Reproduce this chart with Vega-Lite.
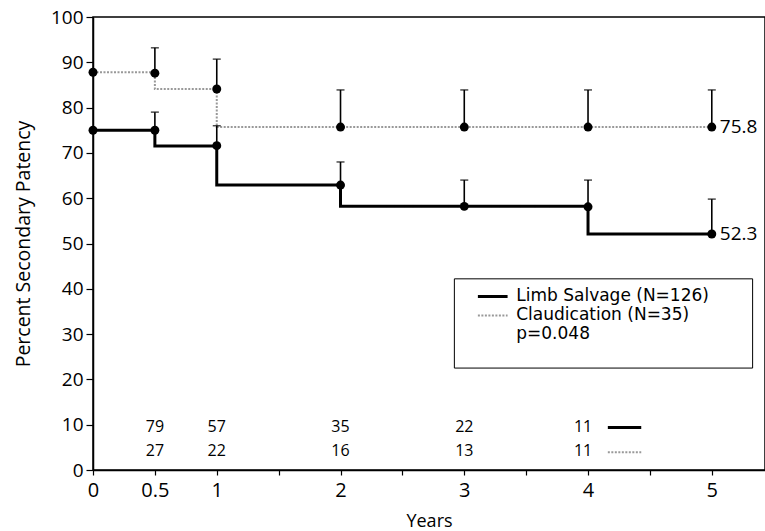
{
  "$schema": "https://vega.github.io/schema/vega-lite/v6.json",
  "width": 672,
  "height": 453,
  "autosize": "none",
  "padding": {"left": 93, "top": 17, "right": 0, "bottom": 61},
  "background": "white",
  "config": {
    "view": {"stroke": "black", "strokeWidth": 1.5},
    "font": "Open Sans",
    "axis": {"domainColor": "black", "tickColor": "black", "labelColor": "black", "titleColor": "black", "grid": false, "labelFont": "Open Sans", "titleFont": "Open Sans", "titleFontWeight": "normal", "domainWidth": 1.5, "tickWidth": 1.2}
  },
  "datasets": {
    "km": [
      {"group": "Limb", "year": 0, "dot": 75, "line": 75, "upper": null},
      {"group": "Limb", "year": 0.5, "dot": 75, "line": 71.5, "upper": 79},
      {"group": "Limb", "year": 1, "dot": 71.6, "line": 62.9, "upper": 76},
      {"group": "Limb", "year": 2, "dot": 62.9, "line": 58.2, "upper": 68},
      {"group": "Limb", "year": 3, "dot": 58.2, "line": 58.2, "upper": 64},
      {"group": "Limb", "year": 4, "dot": 58.1, "line": 52.1, "upper": 64},
      {"group": "Limb", "year": 5, "dot": 52.1, "line": 52.1, "upper": 59.8},
      {"group": "Claud", "year": 0, "dot": 87.8, "line": 87.8, "upper": null},
      {"group": "Claud", "year": 0.5, "dot": 87.6, "line": 84.1, "upper": 93.2},
      {"group": "Claud", "year": 1, "dot": 84.1, "line": 75.7, "upper": 90.7},
      {"group": "Claud", "year": 2, "dot": 75.7, "line": 75.7, "upper": 83.9},
      {"group": "Claud", "year": 3, "dot": 75.7, "line": 75.7, "upper": 83.9},
      {"group": "Claud", "year": 4, "dot": 75.7, "line": 75.7, "upper": 83.9},
      {"group": "Claud", "year": 5, "dot": 75.7, "line": 75.7, "upper": 83.9}
    ],
    "ends": [
      {"group": "Limb", "year": 5, "value": 52.1, "label": "52.3"},
      {"group": "Claud", "year": 5, "value": 75.7, "label": "75.8"}
    ],
    "counts": [
      {"group": "Limb", "year": 0.5, "row": 9.6, "n": "79"},
      {"group": "Limb", "year": 1, "row": 9.6, "n": "57"},
      {"group": "Limb", "year": 2, "row": 9.6, "n": "35"},
      {"group": "Limb", "year": 3, "row": 9.6, "n": "22"},
      {"group": "Limb", "year": 3.96, "row": 9.6, "n": "11"},
      {"group": "Claud", "year": 0.5, "row": 4.1, "n": "27"},
      {"group": "Claud", "year": 1, "row": 4.1, "n": "22"},
      {"group": "Claud", "year": 2, "row": 4.1, "n": "16"},
      {"group": "Claud", "year": 3, "row": 4.1, "n": "13"},
      {"group": "Claud", "year": 3.96, "row": 4.1, "n": "11"}
    ],
    "keys": [
      {"group": "Limb", "x1": 4.16, "x2": 4.43, "y": 9.4},
      {"group": "Claud", "x1": 4.16, "x2": 4.43, "y": 3.9},
      {"group": "Limb", "x1": 3.11, "x2": 3.35, "y": 38.3},
      {"group": "Claud", "x1": 3.11, "x2": 3.35, "y": 34.1}
    ],
    "box": [{"x1": 2.92, "x2": 5.33, "y1": 42.2, "y2": 22.5}],
    "legtext": [
      {"x": 3.42, "y": 38.4, "label": "Limb Salvage (N=126)"},
      {"x": 3.42, "y": 34.2, "label": "Claudication (N=35)"},
      {"x": 3.42, "y": 30.0, "label": "p=0.048"}
    ]
  },
  "layer": [
    {
      "data": {"name": "km"},
      "mark": {"type": "line", "interpolate": "step-after"},
      "encoding": {
        "x": {"field": "year", "type": "quantitative", "scale": {"domain": [0, 5.43], "nice": false, "zero": false},
          "axis": {"title": "Years", "values": [0, 0.5, 1, 1.5, 2, 2.5, 3, 3.5, 4, 4.5, 5], "labelExpr": "(datum.value > 1 && datum.value % 1 == 0.5) ? '' : format(datum.value, '~g')", "labelFlush": false, "labelFontSize": 20, "tickSize": 5, "labelPadding": 5, "titleFontSize": 18, "titlePadding": 12}},
        "y": {"field": "line", "type": "quantitative", "scale": {"domain": [0, 100], "nice": false},
          "axis": {"title": "Percent Secondary Patency", "values": [0, 10, 20, 30, 40, 50, 60, 70, 80, 90, 100], "labelFontSize": 19, "tickSize": 7, "labelPadding": 3, "titleFontSize": 19.5, "titlePadding": 17}},
        "detail": {"field": "group"},
        "color": {"field": "group", "type": "nominal", "scale": {"domain": ["Limb", "Claud"], "range": ["black", "#999999"]}, "legend": null},
        "strokeWidth": {"field": "group", "type": "nominal", "scale": {"domain": ["Limb", "Claud"], "range": [3, 2]}, "legend": null},
        "strokeDash": {"field": "group", "type": "nominal", "scale": {"domain": ["Limb", "Claud"], "range": [[1, 0], [2, 1.5]]}, "legend": null}
      }
    },
    {
      "data": {"name": "km"},
      "transform": [{"filter": "datum.upper != null"}],
      "mark": {"type": "rule", "color": "black", "strokeWidth": 1.6},
      "encoding": {
        "x": {"field": "year", "type": "quantitative"},
        "y": {"field": "dot", "type": "quantitative"},
        "y2": {"field": "upper"}
      }
    },
    {
      "data": {"name": "km"},
      "transform": [{"filter": "datum.upper != null"}],
      "mark": {"type": "tick", "orient": "horizontal", "color": "black", "size": 8, "thickness": 1.5},
      "encoding": {
        "x": {"field": "year", "type": "quantitative"},
        "y": {"field": "upper", "type": "quantitative"}
      }
    },
    {
      "data": {"name": "km"},
      "mark": {"type": "point", "filled": true, "color": "black", "opacity": 1, "size": 80},
      "encoding": {
        "x": {"field": "year", "type": "quantitative"},
        "y": {"field": "dot", "type": "quantitative"}
      }
    },
    {
      "data": {"name": "ends"},
      "mark": {"type": "text", "align": "left", "baseline": "middle", "dx": 8, "fontSize": 19, "color": "black"},
      "encoding": {
        "x": {"field": "year", "type": "quantitative"},
        "y": {"field": "value", "type": "quantitative"},
        "text": {"field": "label"}
      }
    },
    {
      "data": {"name": "counts"},
      "mark": {"type": "text", "align": "center", "baseline": "middle", "fontSize": 16, "color": "black"},
      "encoding": {
        "x": {"field": "year", "type": "quantitative"},
        "y": {"field": "row", "type": "quantitative"},
        "text": {"field": "n"}
      }
    },
    {
      "data": {"name": "box"},
      "mark": {"type": "rect", "fill": "white", "stroke": "black", "strokeWidth": 1},
      "encoding": {
        "x": {"field": "x1", "type": "quantitative"},
        "x2": {"field": "x2"},
        "y": {"field": "y1", "type": "quantitative"},
        "y2": {"field": "y2"}
      }
    },
    {
      "data": {"name": "keys"},
      "mark": {"type": "rule"},
      "encoding": {
        "x": {"field": "x1", "type": "quantitative"},
        "x2": {"field": "x2"},
        "y": {"field": "y", "type": "quantitative"},
        "color": {"field": "group", "type": "nominal", "scale": {"domain": ["Limb", "Claud"], "range": ["black", "#999999"]}, "legend": null},
        "strokeWidth": {"field": "group", "type": "nominal", "scale": {"domain": ["Limb", "Claud"], "range": [3, 2]}, "legend": null},
        "strokeDash": {"field": "group", "type": "nominal", "scale": {"domain": ["Limb", "Claud"], "range": [[1, 0], [2, 1.5]]}, "legend": null}
      }
    },
    {
      "data": {"name": "legtext"},
      "mark": {"type": "text", "align": "left", "baseline": "middle", "fontSize": 17, "font": "DejaVu Sans", "color": "black"},
      "encoding": {
        "x": {"field": "x", "type": "quantitative"},
        "y": {"field": "y", "type": "quantitative"},
        "text": {"field": "label"}
      }
    }
  ]
}
